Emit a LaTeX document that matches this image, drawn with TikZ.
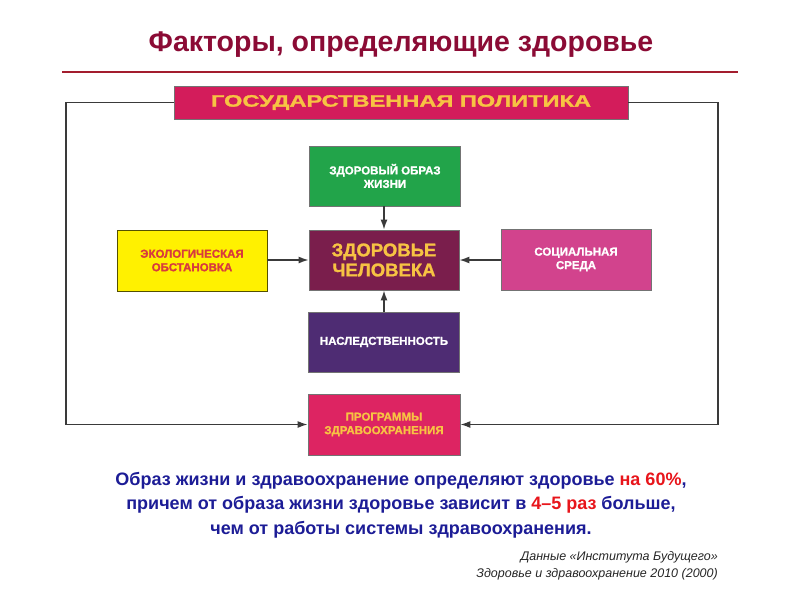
\documentclass[tikz,border=0pt]{standalone}
\usepackage{fontspec}
\setmainfont{Liberation Sans}
\newfontfamily\widefont[FakeStretch=1.43,FakeBold=1.6]{Liberation Sans Bold}
\newfontfamily\heavyfont[FakeBold=1.2]{Liberation Sans Bold}
\usetikzlibrary{arrows.meta}
\definecolor{titlered}{HTML}{8B0B35}
\definecolor{rulered}{HTML}{A31D2E}
\definecolor{crimson}{HTML}{D31C5B}
\definecolor{gold}{HTML}{F7C343}
\definecolor{lifegreen}{HTML}{22A44A}
\definecolor{maroon}{HTML}{7A1E4C}
\definecolor{ecoyellow}{HTML}{FFF100}
\definecolor{ecotext}{HTML}{D83A3E}
\definecolor{socpink}{HTML}{D2438D}
\definecolor{herpurple}{HTML}{4E2C73}
\definecolor{progred}{HTML}{DD2462}
\definecolor{textblue}{HTML}{1C1C96}
\definecolor{textred}{HTML}{E8151B}
\definecolor{linegray}{HTML}{3A3A3A}
\tikzset{
  factorbox/.style={rectangle, draw=black!55, line width=0.8pt, inner sep=0pt,
    align=center, minimum width=151pt, minimum height=60pt,
    font=\heavyfont\fontsize{11.5}{13.5}\selectfont},
  arr/.style={draw=linegray, line width=1.4pt, -{Latex[length=10pt,width=7pt]}},
}
\begin{document}
\begin{tikzpicture}[x=1pt,y=-1pt]
\useasboundingbox (0,0) rectangle (800,600);
\fill[white] (0,0) rectangle (800,600);

% title
\node[text=titlered, font=\bfseries\fontsize{28.5}{30}\selectfont] (title) at (401,45) {Факторы, определяющие здоровье};
\coordinate (rl) at (62,72);
\coordinate (rr) at (738,72);
\draw[rulered, line width=1.5pt] (rl) -- (rr);

% boxes
\node[factorbox, fill=crimson, minimum width=454pt, minimum height=33pt, text=gold,
      font=\widefont\fontsize{16.5}{19}\selectfont] (pol) at (401,102.5) {\raisebox{-1.5pt}{ГОСУДАРСТВЕННАЯ ПОЛИТИКА}};
\node[factorbox, fill=lifegreen, text=white] (zol) at (385,176) {ЗДОРОВЫЙ ОБРАЗ\\ЖИЗНИ};
\node[factorbox, fill=maroon, text=gold, minimum width=150pt,
      font=\heavyfont\fontsize{18.5}{20}\selectfont] (ch) at (384,260) {ЗДОРОВЬЕ\\ЧЕЛОВЕКА};
\node[factorbox, fill=ecoyellow, draw=black!45!ecoyellow!60!black, text=ecotext, minimum width=150pt, minimum height=61pt] (eco) at (192,260.5) {ЭКОЛОГИЧЕСКАЯ\\ОБСТАНОВКА};
\node[factorbox, fill=socpink, text=white, minimum width=150pt, minimum height=61pt] (soc) at (576,259.5) {СОЦИАЛЬНАЯ\\СРЕДА};
\node[factorbox, fill=herpurple, text=white] (her) at (384,342) {НАСЛЕДСТВЕННОСТЬ};
\node[factorbox, fill=progred, text=gold, minimum width=152pt, minimum height=61pt] (prog) at (384,424.5) {ПРОГРАММЫ\\ЗДРАВООХРАНЕНИЯ};

% connectors
\draw[arr] (zol.south -| ch.north) -- (ch.north);
\draw[arr] (her.north) -- (ch.south);
\draw[arr] (eco.east |- ch.east) -- (ch.west);
\draw[arr] (soc.west |- ch.east) -- (ch.east);

\coordinate (tl) at (66,102.5);
\coordinate (bl) at (66,424.5);
\coordinate (tr) at (718,102.5);
\coordinate (br) at (718,424.5);
\draw[arr] (pol.west) -- (tl) -- (bl) -- (prog.west);
\draw[arr] (pol.east) -- (tr) -- (br) -- (prog.east);

% bottom text
\node[align=center, text=textblue, font=\bfseries\fontsize{18}{24.5}\selectfont] (para) at (401,505)
 {Образ жизни и здравоохранение определяют здоровье \textcolor{textred}{на 60\%},\\
  причем от образа жизни здоровье зависит в \textcolor{textred}{4–5 раз} больше,\\
  чем от работы системы здравоохранения.};
\node[anchor=east, align=right, inner sep=0pt, text=black!85, font=\itshape\fontsize{12.5}{17}\selectfont] (src) at (718,565.5)
 {Данные «Института Будущего»\\Здоровье и здравоохранение 2010 (2000)};
\end{tikzpicture}
\end{document}
